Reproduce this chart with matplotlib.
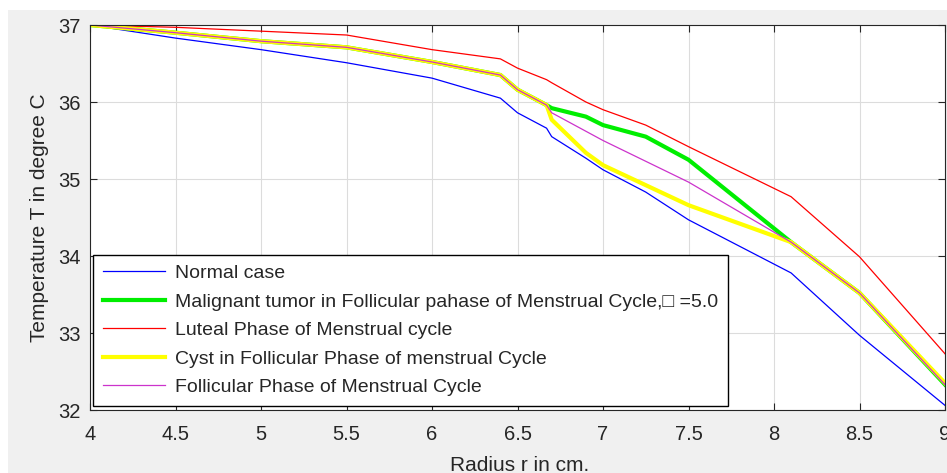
import matplotlib
matplotlib.use("Agg")
import matplotlib.pyplot as plt
from matplotlib.patches import Rectangle

plt.rcParams['font.family'] = ['Liberation Sans', 'DejaVu Sans']

# ---- data ----
radius = [4, 4.5, 5, 5.5, 6, 6.4, 6.5, 6.67, 6.7, 6.9, 7, 7.25, 7.5, 8.1, 8.5, 9]
normal = [37, 36.83, 36.68, 36.51, 36.31, 36.05, 35.86, 35.66, 35.55, 35.27, 35.12, 34.83, 34.47, 33.78, 32.97, 32.06]
malignant = [37, 36.9, 36.79, 36.71, 36.52, 36.35, 36.16, 35.96, 35.92, 35.81, 35.7, 35.55, 35.25, 34.18, 33.52, 32.33]
luteal = [37, 36.97, 36.92, 36.87, 36.68, 36.56, 36.44, 36.29, 36.25, 36.0, 35.9, 35.7, 35.42, 34.77, 33.99, 32.73]
cyst = [37, 36.9, 36.79, 36.71, 36.52, 36.35, 36.16, 35.96, 35.77, 35.34, 35.18, 34.92, 34.66, 34.18, 33.52, 32.35]
follicular = [37, 36.9, 36.79, 36.71, 36.52, 36.35, 36.16, 35.96, 35.86, 35.62, 35.5, 35.23, 34.96, 34.18, 33.52, 32.33]

labels = ["Normal case",
          "Malignant tumor in Follicular pahase of Menstrual Cycle,\u25a1 =5.0",
          "Luteal Phase of Menstrual cycle",
          "Cyst in Follicular Phase of menstrual Cycle",
          "Follicular Phase of Menstrual Cycle"]
xticks = [4, 4.5, 5, 5.5, 6, 6.5, 7, 7.5, 8, 8.5, 9]
xticklabels = ["4", "4.5", "5", "5.5", "6", "6.5", "7", "7.5", "8", "8.5", "9"]
yticks = [32, 33, 34, 35, 36, 37]

W, H = 947, 473
fig = plt.figure(figsize=(W / 100, H / 100), dpi=100, facecolor='#f0f0f0')
# white strips at top and left edges
fig.patches.append(Rectangle((0, 1 - 10 / H), 1, 10 / H, transform=fig.transFigure,
                             facecolor='white', edgecolor='none', zorder=-1))
fig.patches.append(Rectangle((0, 0), 8 / W, 1, transform=fig.transFigure,
                             facecolor='white', edgecolor='none', zorder=-1))

ax = fig.add_axes([90 / W, 1 - 410 / H, 855 / W, 385 / H])
ax.set_facecolor('white')

ax.plot(radius, normal, color='#0000ff', lw=0.9, label=labels[0])
ax.plot(radius, malignant, color='#00ee00', lw=3.0, label=labels[1])
ax.plot(radius, luteal, color='#ff0000', lw=0.9, label=labels[2])
ax.plot(radius, cyst, color='#ffff00', lw=3.0, label=labels[3])
ax.plot(radius, follicular, color='#cc33cc', lw=0.9, label=labels[4])

ax.set_xlim(4, 9)
ax.set_ylim(32, 37)
ax.set_xticks(xticks)
ax.set_xticklabels(xticklabels)
ax.set_yticks(yticks)
ax.grid(True, color='#dcdcdc', lw=0.8)
ax.set_axisbelow(True)
ax.tick_params(direction='in', top=True, right=True, length=5, width=0.8,
               colors='#262626', labelsize=14.5)
ax.tick_params(axis='x', pad=11)
ax.tick_params(axis='y', pad=7)
for s in ax.spines.values():
    s.set_color('#262626')
    s.set_linewidth(0.8)

ax.set_xlabel("Radius r in cm.", fontsize=15, color='#262626')
ax.set_ylabel("Temperature T in degree C", fontsize=15, color='#262626')
ax.xaxis.set_label_coords(0.502, -0.12)
ax.yaxis.set_label_coords(-0.048, 0.5)

leg = ax.legend(loc='lower left', bbox_to_anchor=(0.0035, 0.011), fontsize=14,
                frameon=True, fancybox=False, edgecolor='black', framealpha=1,
                handlelength=3.2, labelspacing=0.56, borderpad=0.5, handletextpad=0.5,
                borderaxespad=0)
leg.get_frame().set_linewidth(1.0)
for t in leg.get_texts():
    t.set_color('#262626')

fig.savefig("out.png", dpi=100, facecolor=fig.get_facecolor())
